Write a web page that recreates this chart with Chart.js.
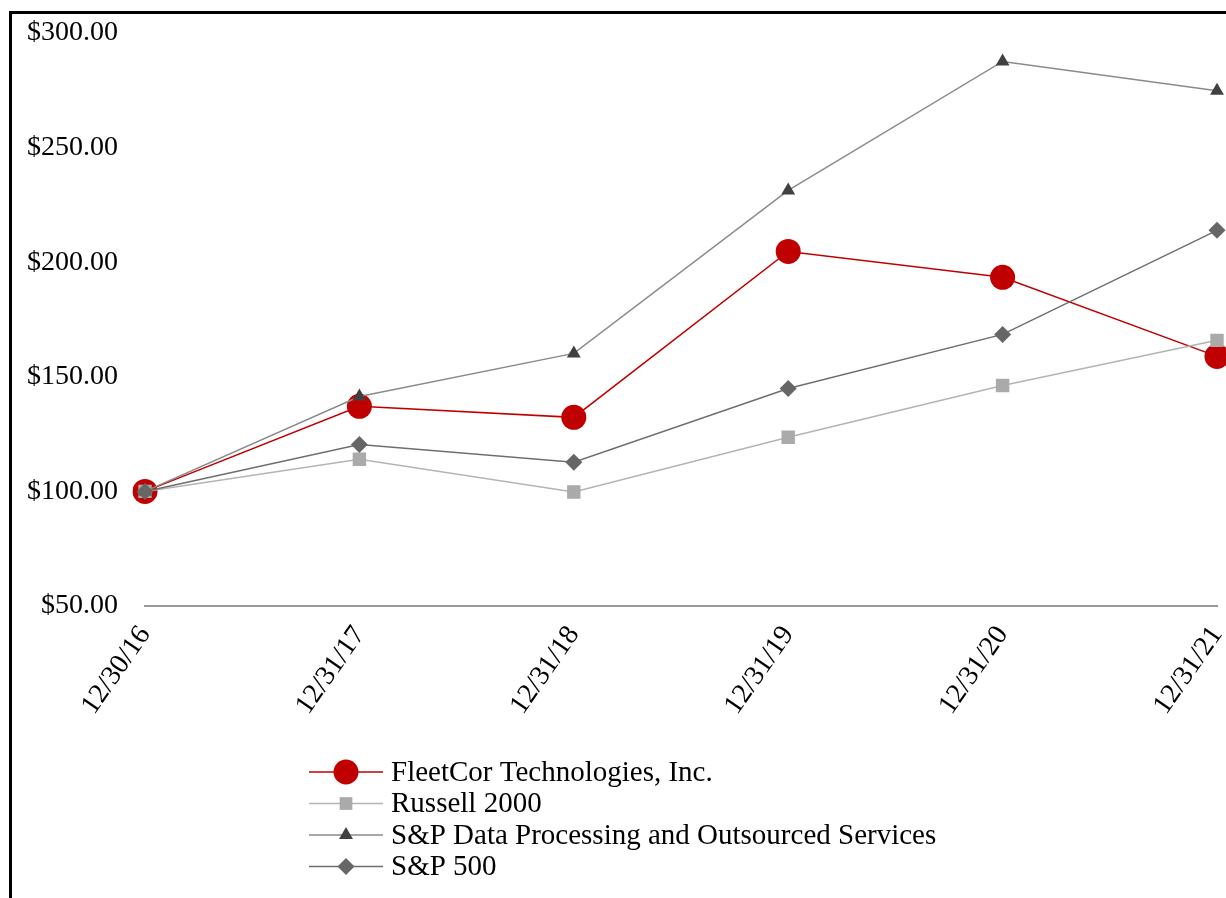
<!DOCTYPE html>
<html lang="en">
<head>
    <meta charset="utf-8">
    <title>Cumulative Total Return</title>
    <script src="https://cdn.jsdelivr.net/npm/chart.js@4.4.0/dist/chart.umd.min.js"></script>
    <style>
        body { margin: 0; padding: 0; background: #fff; }
        #chart-container { width: 1226px; height: 898px; }
    </style>
</head>
<body>
    <div id="chart-container">
        <canvas id="returnChart"></canvas>
    </div>

    <script>
        const dates = ['12/30/16', '12/31/17', '12/31/18', '12/31/19', '12/31/20', '12/31/21'];
        const fleetcor = [100, 137.1, 132.3, 204.7, 193.4, 158.9];
        const russell2000 = [100, 114.0, 99.7, 123.6, 146.2, 165.9];
        const spDataProcessing = [100, 141.4, 160.2, 231.3, 287.6, 274.8];
        const sp500 = [100, 120.5, 112.7, 144.9, 168.5, 213.9];
        const yTicks = [50, 100, 150, 200, 250, 300];

        const serif = "'Liberation Serif', 'Times New Roman', serif";

        // black frame on top and left, like the cropped source
        const framePlugin = {
            id: 'frame',
            beforeDraw(chart) {
                const c = chart.ctx;
                c.save();
                c.fillStyle = '#000';
                c.fillRect(9, 11, chart.width - 9, 3);
                c.fillRect(9, 11, 3, chart.height - 11);
                c.restore();
            }
        };

        // legend: line with marker in the middle, stacked rows
        const legendPlugin = {
            id: 'lineLegend',
            afterDraw(chart) {
                const c = chart.ctx;
                const x0 = 309, x1 = 383, rowTop = 772, rowGap = 31.5;
                c.save();
                c.font = '29px ' + serif;
                c.textBaseline = 'middle';
                chart.data.datasets.forEach((ds, i) => {
                    const y = rowTop + i * rowGap;
                    c.strokeStyle = ds.borderColor;
                    c.lineWidth = ds.borderWidth;
                    c.beginPath();
                    c.moveTo(x0, y);
                    c.lineTo(x1, y);
                    c.stroke();
                    c.fillStyle = ds.pointBackgroundColor;
                    c.strokeStyle = ds.pointBackgroundColor;
                    Chart.helpers.drawPoint(c, {
                        pointStyle: ds.pointStyle,
                        radius: ds.legendRadius,
                        borderWidth: 0,
                        rotation: 0
                    }, (x0 + x1) / 2, y);
                    c.fillStyle = '#000';
                    c.fillText(ds.label, 391, y + 1);
                });
                c.restore();
            }
        };

        const ctx = document.getElementById('returnChart').getContext('2d');

        const returnChart = new Chart(ctx, {
            type: 'line',
            data: {
                labels: dates,
                datasets: [
                    {
                        label: 'FleetCor Technologies, Inc.',
                        data: fleetcor,
                        borderColor: '#C00000',
                        borderWidth: 1.5,
                        pointStyle: 'circle',
                        pointRadius: 12.5,
                        legendRadius: 12.5,
                        pointBackgroundColor: '#C00000',
                        pointBorderColor: '#C00000',
                        pointBorderWidth: 0,
                        order: 4
                    },
                    {
                        label: 'Russell 2000',
                        data: russell2000,
                        borderColor: '#B4B4B4',
                        borderWidth: 1.5,
                        pointStyle: 'rect',
                        pointRadius: 9.5,
                        legendRadius: 9,
                        pointBackgroundColor: '#AAAAAA',
                        pointBorderColor: '#AAAAAA',
                        pointBorderWidth: 0,
                        order: 3
                    },
                    {
                        label: 'S&P Data Processing and Outsourced Services',
                        data: spDataProcessing,
                        borderColor: '#8A8A8A',
                        borderWidth: 1.5,
                        pointStyle: 'triangle',
                        pointRadius: 8,
                        legendRadius: 8,
                        pointBackgroundColor: '#404040',
                        pointBorderColor: '#404040',
                        pointBorderWidth: 0,
                        order: 2
                    },
                    {
                        label: 'S&P 500',
                        data: sp500,
                        borderColor: '#6E6E6E',
                        borderWidth: 1.5,
                        pointStyle: 'rectRot',
                        pointRadius: 8.5,
                        legendRadius: 8.5,
                        pointBackgroundColor: '#666666',
                        pointBorderColor: '#666666',
                        pointBorderWidth: 0,
                        order: 1
                    }
                ]
            },
            options: {
                responsive: true,
                maintainAspectRatio: false,
                animation: false,
                layout: {
                    autoPadding: false,
                    padding: { left: 12, top: 33, right: 9, bottom: 0 }
                },
                plugins: {
                    legend: { display: false },
                    tooltip: { enabled: false }
                },
                scales: {
                    x: {
                        offset: false,
                        grid: { display: false, drawTicks: false },
                        border: { display: true, color: '#999999', width: 2 },
                        ticks: {
                            color: '#000',
                            font: { family: serif, size: 28 },
                            minRotation: 55,
                            maxRotation: 55,
                            padding: 14
                        },
                        afterFit(scale) {
                            scale.height = 292;
                            scale.paddingLeft = 0;
                            scale.paddingRight = 0;
                        }
                    },
                    y: {
                        min: 50,
                        max: 300,
                        grid: { display: false, drawTicks: false },
                        border: { display: false },
                        afterBuildTicks(scale) {
                            scale.ticks = yTicks.map(v => ({ value: v }));
                        },
                        ticks: {
                            color: '#000',
                            font: { family: serif, size: 28 },
                            padding: 27,
                            callback: v => '$' + v.toFixed(2)
                        },
                        afterFit(scale) {
                            scale.width = 133;
                            scale.paddingTop = 0;
                            scale.paddingBottom = 0;
                        }
                    }
                }
            },
            plugins: [framePlugin, legendPlugin]
        });
    </script>
</body>
</html>
